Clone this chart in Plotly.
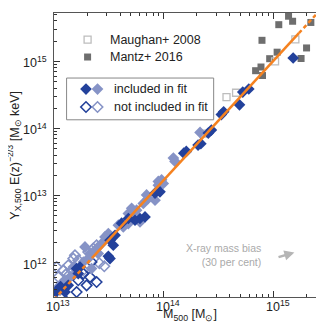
import numpy as np
import plotly.graph_objects as go

# ---- data (log10 values) ----
# Mantz+ 2016 (filled grey squares)
mantz_logM = [15.047, 15.136, 15.173, 15.339, 14.894, 15.300, 15.032, 14.964, 15.250, 14.885, 14.836, 14.899]
mantz_logY = [15.546, 15.672, 15.597, 15.579, 15.313, 15.199, 15.136, 15.039, 15.042, 14.915, 14.860, 14.788]
# Maughan+ 2008 (open grey squares)
maughan_logM = [15.198, 14.571, 14.658, 14.360, 15.013]
maughan_logY = [15.328, 14.467, 14.531, 13.922, 15.000]
# included in fit, dark
inc_dark_logM = [15.178, 14.774, 14.719, 14.689, 14.545, 14.524, 14.433, 14.405, 14.337, 14.312, 14.205, 14.182,
                 13.920, 13.965, 13.829, 13.783, 13.738, 13.677, 13.556, 13.510, 13.540, 13.495, 13.510,
                 13.237, 13.206, 13.221, 13.130, 13.100, 13.616, 13.015, 13.060]
inc_dark_logY = [15.049, 14.587, 14.542, 14.352, 14.248, 14.206, 13.975, 13.930, 13.773, 13.751, 13.657, 13.631,
                 13.034, 13.054, 12.681, 12.657, 12.631, 12.657, 12.407, 12.333, 12.258, 12.094, 12.060,
                 11.934, 11.910, 11.836, 11.661, 11.561, 12.587, 11.567, 11.642]
# included in fit, light
inc_light_logM = [14.330, 14.087, 14.102, 13.950, 13.980, 13.843, 13.950, 13.995, 13.920, 13.859, 13.813, 13.752,
                  13.677, 13.586, 13.631, 13.783, 13.677, 13.722, 13.495, 13.464, 13.434, 13.388, 13.403, 13.328,
                  13.312, 13.267, 13.342, 13.191, 13.146, 13.100, 13.069, 13.039, 13.055, 13.176, 13.282, 13.707]
inc_light_logY = [13.940, 13.557, 13.507, 13.209, 13.233, 13.009, 13.154, 13.179, 12.930, 12.955, 12.881, 12.781,
                  12.582, 12.557, 12.531, 12.606, 12.731, 12.755, 12.433, 12.382, 12.284, 12.209, 12.134, 12.134,
                  12.060, 12.009, 11.910, 11.836, 11.785, 11.736, 11.687, 11.636, 11.587, 11.934, 12.233, 12.810]
# not included in fit, dark
exc_dark_logM = [13.297, 13.206, 13.267, 13.328, 13.221, 13.069, 13.388, 13.342]
exc_dark_logY = [11.661, 11.561, 11.836, 11.785, 11.736, 11.497, 11.710, 12.009]
# not included in fit, light
exc_light_logM = [13.312, 13.358, 13.221, 13.176, 13.130, 13.085, 13.039, 13.267, 13.388, 13.115, 13.024, 13.191,
                  13.160, 13.413, 13.458]
exc_light_logY = [12.158, 12.209, 12.034, 12.060, 11.960, 11.885, 11.785, 11.885, 12.258, 11.836, 11.934, 12.109,
                  11.885, 11.990, 11.945]
# best-fit relation (dashed outside the fitted mass range)
fit_logM = [13.0, 13.35, 15.23, 15.48]
fit_logY = [11.450, 12.073, 15.419, 15.864]

# tick decades
x_tick_exp = [13, 14, 15]
y_tick_exp = [12, 13, 14, 15]

def p(v):
    return [10 ** x for x in v]

DARK = "#23419b"
LIGHT = "#8693c6"
GREY = "#6e6e6e"
OPENGREY = "#bdbdbd"
ORANGE = "#f58220"

fig = go.Figure()
fig.add_trace(go.Scatter(x=p(mantz_logM), y=p(mantz_logY), mode="markers",
                         marker=dict(symbol="square", size=7, color=GREY)))
fig.add_trace(go.Scatter(x=p(maughan_logM), y=p(maughan_logY), mode="markers",
                         marker=dict(symbol="square-open", size=7, color=OPENGREY, line=dict(width=1.3))))
fig.add_trace(go.Scatter(x=p(exc_light_logM), y=p(exc_light_logY), mode="markers",
                         marker=dict(symbol="diamond-open", size=8, color=LIGHT, line=dict(width=1.6))))
fig.add_trace(go.Scatter(x=p(exc_dark_logM), y=p(exc_dark_logY), mode="markers",
                         marker=dict(symbol="diamond-open", size=8, color=DARK, line=dict(width=1.6))))
fig.add_trace(go.Scatter(x=p(inc_light_logM), y=p(inc_light_logY), mode="markers",
                         marker=dict(symbol="diamond", size=9, color=LIGHT)))
fig.add_trace(go.Scatter(x=p(inc_dark_logM), y=p(inc_dark_logY), mode="markers",
                         marker=dict(symbol="diamond", size=9, color=DARK)))
# fit line
fig.add_trace(go.Scatter(x=p(fit_logM[0:2]), y=p(fit_logY[0:2]), mode="lines",
                         line=dict(color=ORANGE, width=2.5, dash="4px,3px")))
fig.add_trace(go.Scatter(x=p(fit_logM[1:3]), y=p(fit_logY[1:3]), mode="lines",
                         line=dict(color=ORANGE, width=2.5)))
fig.add_trace(go.Scatter(x=p(fit_logM[2:4]), y=p(fit_logY[2:4]), mode="lines",
                         line=dict(color=ORANGE, width=2.5, dash="4px,3px")))

# legend symbols on an overlay axis in fractional coordinates
leg = dict(xaxis="x2", yaxis="y2", mode="markers", hoverinfo="skip")
fig.add_trace(go.Scatter(x=[0.1235], y=[0.906], marker=dict(symbol="square-open", size=7, color=OPENGREY, line=dict(width=1.3)), **leg))
fig.add_trace(go.Scatter(x=[0.1235], y=[0.845], marker=dict(symbol="square", size=7, color=GREY), **leg))
fig.add_trace(go.Scatter(x=[0.1176, 0.160], y=[0.732, 0.732], marker=dict(symbol="diamond", size=9, color=[DARK, LIGHT]), **leg))
fig.add_trace(go.Scatter(x=[0.1176, 0.160], y=[0.669, 0.669],
                         marker=dict(symbol="diamond-open", size=8, color=[DARK, LIGHT], line=dict(width=1.6, color=[DARK, LIGHT])), **leg))

TXT = "#222222"
FONT = "Liberation Sans, Arial, sans-serif"
ann = []
for txt, x, y in [("Maughan+ 2008", 0.1996, 0.906), ("Mantz+ 2016", 0.1996, 0.845),
                  ("included in fit", 0.212, 0.732), ("not included in fit", 0.212, 0.669)]:
    ann.append(dict(text=txt, x=x, y=y, xref="paper", yref="paper", xanchor="left", yanchor="middle",
                    showarrow=False, font=dict(size=12.5, color=TXT, family=FONT)))
ann.append(dict(text="X-ray mass bias<br>(30 per cent)", x=0.7695, y=0.149, xref="paper", yref="paper",
                xanchor="right", yanchor="middle", align="right", showarrow=False,
                font=dict(size=10.5, color="#aaaaaa", family=FONT)))
ann.append(dict(text="", x=15.189, y=12.149, ax=15.031, ay=12.075, xref="x", yref="y", axref="x", ayref="y",
                showarrow=True, arrowhead=2, arrowsize=0.8, arrowwidth=2.5, arrowcolor="#b5b5b5"))
# tick labels
for e in x_tick_exp:
    ann.append(dict(text="10<sup>%d</sup>" % e, x=e, y=0, xref="x", yref="paper", xanchor="center",
                    yanchor="top", xshift=4, yshift=1, showarrow=False,
                    font=dict(size=12.5, color=TXT, family=FONT)))
for e in y_tick_exp:
    ann.append(dict(text="10<sup>%d</sup>" % e, x=0, y=e, xref="paper", yref="y", xanchor="right",
                    yanchor="middle", xshift=-5, yshift=-1, showarrow=False,
                    font=dict(size=12.5, color=TXT, family=FONT)))
# axis titles
ann.append(dict(text="M<sub>500</sub> [M<sub>⊙</sub>]", x=0.5, y=-0.062, xref="paper", yref="paper",
                xanchor="center", yanchor="middle", showarrow=False,
                font=dict(size=12.5, color=TXT, family=FONT)))
ann.append(dict(text="Y<sub>X,500</sub> E(z)<sup>−2/3</sup> [M<sub>⊙</sub> keV]", x=-0.145, y=0.4995,
                xref="paper", yref="paper", xanchor="center", yanchor="middle", textangle=-90,
                showarrow=False, font=dict(size=12.5, color=TXT, family=FONT)))

axis_common = dict(type="log", showline=True, linecolor="#555555", linewidth=1, mirror="ticks",
                   ticks="inside", ticklen=6, tickcolor="#333333", showgrid=False, zeroline=False,
                   dtick=1, showticklabels=False,
                   minor=dict(ticks="inside", ticklen=3, tickcolor="#333333", showgrid=False))

fig.update_layout(
    width=324, height=324, margin=dict(l=46, r=6, t=5, b=35),
    paper_bgcolor="white", plot_bgcolor="white", showlegend=False,
    xaxis=dict(range=[13.0, 15.477], **axis_common),
    yaxis=dict(range=[11.487, 15.72], **axis_common),
    xaxis2=dict(overlaying="x", range=[0, 1], visible=False, fixedrange=True),
    yaxis2=dict(overlaying="y", range=[0, 1], visible=False, fixedrange=True),
    annotations=ann,
    shapes=[dict(type="rect", xref="paper", yref="paper", x0=0.0463, x1=0.587, y0=0.624, y1=0.771,
                 line=dict(color="#888888", width=1), layer="above")],
)

fig.write_html("out.html")
